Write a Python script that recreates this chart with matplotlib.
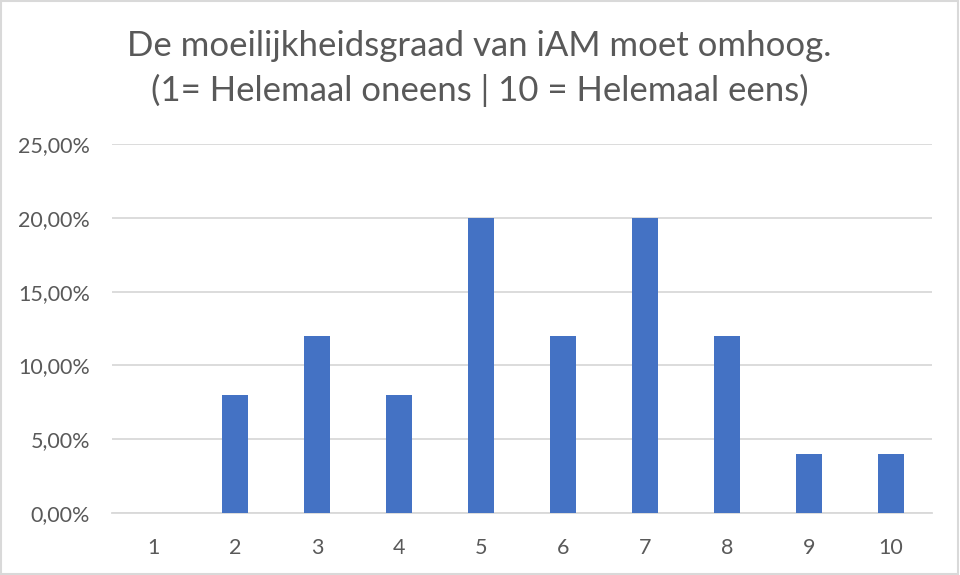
import matplotlib.pyplot as plt
import matplotlib.patches as patches
from matplotlib.ticker import FuncFormatter

categories = ["1", "2", "3", "4", "5", "6", "7", "8", "9", "10"]
shares = [0.00, 0.08, 0.12, 0.08, 0.20, 0.12, 0.20, 0.12, 0.04, 0.04]
title = "De moeilijkheidsgraad van iAM moet omhoog.\n(1= Helemaal oneens | 10 = Helemaal eens)"

text_color = "#595959"
grid_color = "#D9D9D9"
bar_color = "#4472C4"

plt.rcParams["font.family"] = ["Lato", "DejaVu Sans"]

fig = plt.figure(figsize=(9.6, 5.75), dpi=100)
ax = fig.add_axes([0.1167, 0.1078, 0.8542, 0.6417])

x = range(len(categories))
ax.bar(x, shares, width=0.32, color=bar_color, zorder=3)

ax.set_xlim(-0.5, len(categories) - 0.5)
ax.set_ylim(0, 0.25)
ax.set_yticks([0, 0.05, 0.10, 0.15, 0.20, 0.25])
ax.yaxis.set_major_formatter(
    FuncFormatter(lambda v, _: f"{v * 100:.2f}%".replace(".", ","))
)
ax.set_xticks(list(x))
ax.set_xticklabels(categories)

ax.grid(axis="y", color=grid_color, linewidth=1.3, zorder=0)
for side in ["top", "right", "left"]:
    ax.spines[side].set_visible(False)
ax.spines["bottom"].set_color(grid_color)
ax.spines["bottom"].set_linewidth(1.3)
ax.tick_params(axis="both", length=0, labelsize=15.5, labelcolor=text_color)
ax.tick_params(axis="x", pad=18)
ax.tick_params(axis="y", pad=16)

fig.text(0.4995, 0.881, title, ha="center", va="center", fontsize=25,
         color=text_color, linespacing=1.45)

# thin frame round the whole chart
fig.patches.append(patches.Rectangle((0.001, 0.002), 0.997, 0.996,
                                     transform=fig.transFigure, fill=False,
                                     edgecolor=grid_color, linewidth=1.5))

fig.savefig("out.png", dpi=100)
